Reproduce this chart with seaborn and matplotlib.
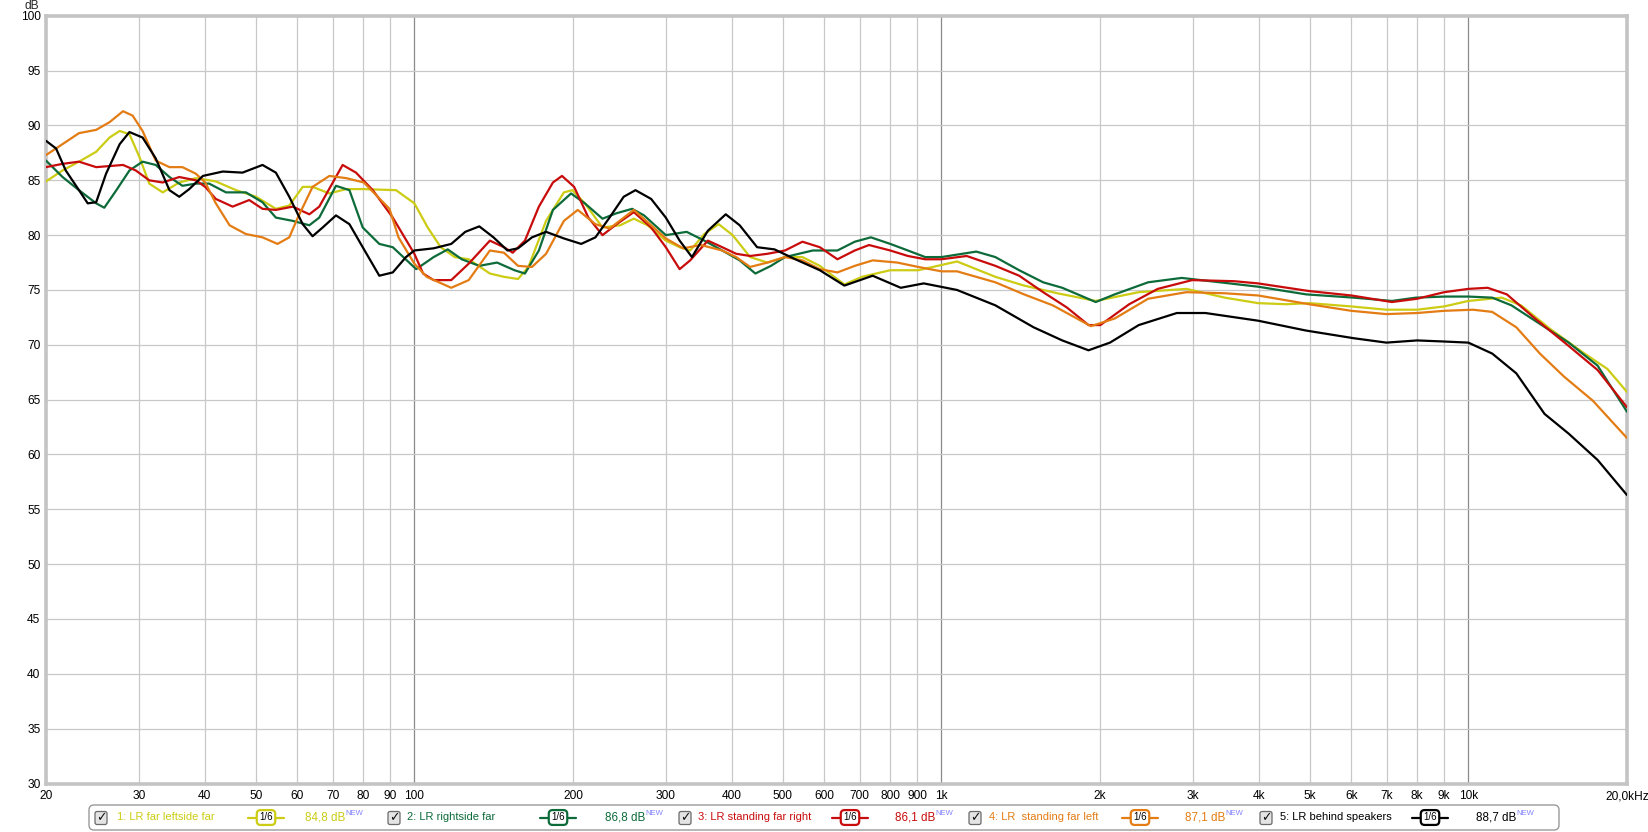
import numpy as np
import pandas as pd
import matplotlib
matplotlib.use("Agg")
import matplotlib.pyplot as plt
import seaborn as sns
from matplotlib.patches import FancyBboxPatch
from matplotlib.lines import Line2D
from matplotlib.transforms import IdentityTransform

# ---------------- data ----------------
names = ["1: LR far leftside far", "2: LR rightside far", "3: LR standing far right",
         "4: LR  standing far left", "5: LR behind speakers"]
levels = ["84,8 dB", "86,8 dB", "86,1 dB", "87,1 dB", "88,7 dB"]
colors = ["#cccc14", "#0d6b3a", "#c80c0c", "#e47c14", "#000000"]

f1 = [20, 21.5, 23.1, 24.9, 26.4, 27.6, 28.8, 30.1, 31.4, 33.3, 35.8, 38.5, 42.0, 45.9, 50.1,
      54.6, 57.9, 61.4, 64.1, 69.0, 74.2, 79.8, 92.3, 100, 106, 112.2, 119.3, 126.8, 139.1,
      147.9, 157.3, 164.6, 177.8, 192.2, 199.5, 210.6, 227.5, 245.7, 260.9, 277, 300, 318.7,
      333.7, 355, 378, 401.8, 433.6, 467.8, 505, 545, 588, 654.6, 707, 799.5, 904, 1071, 1266,
      1435, 1661, 1963, 2369, 2918, 3451, 3989, 4520, 4990, 5996, 6990, 7993, 9000, 9999,
      11570, 12590, 14250, 16500, 18360, 20000]
d1 = [84.9, 85.9, 86.7, 87.6, 88.9, 89.5, 89.2, 87.1, 84.7, 83.9, 84.8, 85.2, 84.9, 84.1, 83.5,
      82.4, 82.7, 84.4, 84.4, 83.8, 84.2, 84.2, 84.1, 82.9, 80.7, 78.9, 78.0, 77.8, 76.5,
      76.2, 76.0, 77.1, 81.3, 83.9, 84.1, 82.9, 80.7, 80.9, 81.5, 80.9, 79.5, 78.9,
      78.6, 80.1, 81.0, 80.0, 78.0, 77.5, 78.0, 78.0, 77.2, 75.5, 76.2, 76.8, 76.8, 77.6, 76.2,
      75.4, 74.7, 74.0, 74.8, 75.1, 74.3, 73.8, 73.7, 73.8, 73.5, 73.2, 73.2, 73.5, 74.0,
      74.3, 73.6, 71.5, 69.3, 67.8, 65.7]

f2 = [20, 21.5, 23.1, 24.9, 25.8, 27.2, 28.8, 30.5, 32.3, 34.3, 36.3, 38.5, 40.8, 43.9, 47.9,
      51.5, 54.6, 58.8, 63.2, 66.0, 71.0, 75.3, 79.8, 85.8, 91.0, 100.8, 108.8, 115.7, 123,
      132.8, 143.5, 154.9, 162.1, 172.3, 183.2, 198.3, 210.6, 227.5, 242, 259, 272.8, 300,
      328.6, 355, 383.9, 414.3, 443.7, 475, 505, 570, 635, 685, 735, 800, 864, 932, 1000,
      1165, 1266, 1405, 1560, 1696, 1963, 2133, 2468, 2858, 3240, 3989, 4921, 6063, 7160,
      7950, 9000, 9999, 11100, 12070, 13380, 15500, 17590, 20000]
d2 = [86.8, 85.3, 84.1, 82.9, 82.5, 84.1, 85.9, 86.7, 86.4, 85.3, 84.5, 84.7, 84.7, 83.9, 83.9,
      83.0, 81.6, 81.3, 80.9, 81.6, 84.5, 84.1, 80.7, 79.2, 78.9, 76.9, 78.0, 78.7, 77.8,
      77.2, 77.5, 76.8, 76.5, 78.6, 82.3, 83.8, 82.9, 81.5, 82.0, 82.4, 81.8, 80.0,
      80.3, 79.5, 78.6, 77.7, 76.5, 77.2, 78.0, 78.6, 78.6, 79.4, 79.8, 79.2, 78.6, 78.0, 78.0,
      78.5, 78.0, 76.8, 75.7, 75.2, 73.9, 74.6, 75.7, 76.1, 75.8, 75.3, 74.6, 74.3, 74.0,
      74.3, 74.4, 74.4, 74.3, 73.6, 72.2, 70.2, 68.1, 63.9]

f3 = [20, 21.5, 23.1, 24.9, 28.0, 29.6, 31.4, 33.3, 35.8, 38.5, 40.1, 42.0, 45.2, 48.6, 51.5,
      54.6, 58.8, 63.2, 66.0, 73.1, 77.5, 83.4, 91.0, 100, 103.9, 108.8, 117.5, 126.8, 139.1,
      147.9, 153.7, 162.1, 172.3, 183.2, 190.6, 201, 213.9, 227.5, 242, 260.9, 281.4, 300,
      318.7, 333.7, 360.5, 383.9, 408, 433.6, 467.8, 505, 545, 588, 635, 685, 729, 800, 864,
      932, 1000, 1117, 1266, 1405, 1560, 1731, 1902, 2003, 2272, 2574, 2992, 3595, 3989,
      4990, 5996, 7160, 7993, 9000, 9999, 10880, 11830, 13380, 15500, 17590, 20000]
d3 = [86.2, 86.5, 86.7, 86.2, 86.4, 85.9, 85.0, 84.8, 85.3, 85.0, 84.4, 83.3, 82.6, 83.2, 82.4,
      82.3, 82.6, 81.9, 82.6, 86.4, 85.7, 84.1, 81.6, 78.3, 76.5, 75.9, 75.9, 77.4, 79.5,
      78.9, 78.4, 79.5, 82.6, 84.8, 85.4, 84.4, 81.6, 80.0, 81.0, 82.1, 80.7, 78.9,
      76.9, 77.7, 79.5, 78.9, 78.3, 78.1, 78.3, 78.6, 79.4, 78.9, 77.8, 78.6, 79.1, 78.6, 78.1,
      77.8, 77.8, 78.1, 77.2, 76.3, 74.8, 73.4, 71.8, 71.8, 73.7, 75.1, 75.9, 75.8, 75.6,
      74.9, 74.5, 73.9, 74.2, 74.8, 75.1, 75.2, 74.6, 72.4, 69.9, 67.7, 64.3]

f4 = [20, 21.5, 23.1, 24.9, 26.4, 28.0, 29.2, 30.5, 32.3, 34.3, 36.3, 38.5, 40.1, 42.0, 44.6,
      47.9, 51.5, 55.0, 57.9, 60.1, 64.1, 69.0, 74.2, 80.2, 89.7, 93.3, 100, 105.5, 117.5,
      126.8, 139.1, 147.9, 157.3, 167.2, 177.8, 192.2, 204.2, 220.6, 234.6, 260.9, 281.4, 300,
      323.6, 349.6, 383.9, 408, 433.6, 467.8, 505, 545, 588, 635, 685, 741, 825, 904, 1000,
      1071, 1266, 1435, 1627, 1922, 2133, 2468, 2918, 3451, 3989, 4990, 5996, 6990, 7993,
      9000, 10210, 11100, 12330, 13670, 15190, 17230, 20000]
d4 = [87.3, 88.3, 89.3, 89.6, 90.3, 91.3, 90.9, 89.5, 86.8, 86.2, 86.2, 85.6, 84.8, 82.9, 80.9,
      80.1, 79.8, 79.2, 79.8, 81.6, 84.4, 85.4, 85.2, 84.8, 82.4, 79.8, 77.4, 76.2, 75.2,
      75.9, 78.6, 78.4, 77.2, 77.1, 78.3, 81.3, 82.3, 81.0, 80.6, 82.3, 80.9, 79.7,
      78.8, 79.1, 78.6, 78.0, 77.1, 77.5, 78.0, 77.7, 76.9, 76.6, 77.2, 77.7, 77.5, 77.1, 76.7,
      76.7, 75.7, 74.6, 73.6, 71.7, 72.4, 74.2, 74.8, 74.7, 74.5, 73.7, 73.1, 72.8, 72.9,
      73.1, 73.2, 73.0, 71.6, 69.2, 67.1, 64.9, 61.5]

f5 = [20, 20.9, 21.8, 23.1, 24.0, 24.9, 26.0, 27.6, 28.8, 30.5, 32.3, 34.3, 35.8, 37.4, 39.7,
      43.3, 47.2, 51.5, 54.6, 57.9, 61.4, 64.1, 67.0, 71.0, 75.3, 79.8, 85.8, 91.0, 96.4,
      100, 108.8, 117.5, 124.9, 132.8, 141.3, 150.2, 157.3, 167.2, 177.8, 192.2, 207.3, 220.6,
      234.6, 249.6, 262.8, 281.4, 300, 318.7, 336.3, 360.5, 389.8, 414.3, 447.1, 482.5, 528.3,
      588, 654.6, 740.6, 837.4, 926, 1071, 1266, 1496, 1696, 1902, 2089, 2369, 2798, 3170,
      3989, 4921, 6063, 6990, 7993, 9000, 9999, 11100, 12330, 13950, 15500, 17590, 20000]
d5 = [88.6, 87.9, 85.9, 84.1, 82.9, 83.0, 85.6, 88.3, 89.4, 88.9, 87.0, 84.1, 83.5, 84.2, 85.4,
      85.8, 85.7, 86.4, 85.7, 83.5, 81.0, 79.9, 80.7, 81.8, 81.0, 78.9, 76.3, 76.6, 78.0,
      78.6, 78.8, 79.2, 80.3, 80.8, 79.8, 78.6, 78.8, 79.8, 80.3, 79.7, 79.2, 79.8,
      81.6, 83.5, 84.1, 83.3, 81.6, 79.5, 78.0, 80.4, 81.9, 80.9, 78.9, 78.7, 77.8,
      76.8, 75.4, 76.3, 75.2, 75.6, 75.0, 73.6, 71.6, 70.4, 69.5, 70.2, 71.8, 72.9, 72.9,
      72.2, 71.3, 70.6, 70.2, 70.4, 70.3, 70.2, 69.2, 67.4, 63.7, 61.9, 59.5, 56.3]

x_ticks = [20, 30, 40, 50, 60, 70, 80, 90, 100, 200, 300, 400, 500, 600, 700, 800, 900,
           1000, 2000, 3000, 4000, 5000, 6000, 7000, 8000, 9000, 10000, 20000]
x_labels = ["20", "30", "40", "50", "60", "70", "80", "90", "100", "200", "300", "400", "500",
            "600", "700", "800", "900", "1k", "2k", "3k", "4k", "5k", "6k", "7k", "8k", "9k",
            "10k", "20,0kHz"]
y_ticks = [30, 35, 40, 45, 50, 55, 60, 65, 70, 75, 80, 85, 90, 95, 100]

# ---------------- figure ----------------
W, H = 1649, 832
sns.set_style("white")
plt.rcParams["font.family"] = ["Liberation Sans", "DejaVu Sans"]

fig = plt.figure(figsize=(W / 100, H / 100), dpi=100)
ax = fig.add_axes([46 / W, 1 - 783.5 / H, (1627 - 46) / W, (783.5 - 15.8) / H])

frames = [pd.DataFrame({"Frequency": f, "SPL": d, "trace": n})
          for n, f, d in zip(names, [f1, f2, f3, f4, f5], [d1, d2, d3, d4, d5])]
df = pd.concat(frames, ignore_index=True)

sns.lineplot(data=df, x="Frequency", y="SPL", hue="trace", hue_order=names, palette=colors,
             estimator=None, sort=False, legend=False, linewidth=1.6, ax=ax, zorder=3)

ax.set_xscale("log")
ax.set_xlim(20, 20000)
ax.set_ylim(30, 100)
ax.xaxis.set_minor_locator(matplotlib.ticker.NullLocator())
ax.set_xticks(x_ticks)
ax.set_xticklabels(x_labels)
ax.set_yticks(y_ticks)
ax.set_yticklabels([str(v) for v in y_ticks])
ax.set_xlabel("")
ax.set_ylabel("")
ax.tick_params(axis="both", length=0, labelsize=8.6, colors="#000000")
ax.tick_params(axis="x", pad=5)
ax.tick_params(axis="y", pad=4)

ax.grid(True, which="major", color="#c8c8c8", linewidth=0.9, zorder=0)
for v, t in zip(x_ticks, ax.xaxis.get_major_ticks()):
    if v in (100, 1000, 10000):
        t.gridline.set_color("#8a8a8a")
ax.set_axisbelow(True)

for s in ax.spines.values():
    s.set_visible(True)
    s.set_color("#c4c4c4")
    s.set_linewidth(2.6)

fig.text(32 / W, 1 - 6 / H, "dB", ha="center", va="center", fontsize=8.6)

# ---------------- legend bar (pixel coordinates) ----------------
T = IdentityTransform()
def py(y):
    return H - y

box = FancyBboxPatch((89, py(830)), 1559 - 89, 25, boxstyle="round,pad=0,rounding_size=5",
                     transform=T, fc="white", ec="#9a9a9a", lw=1.0)
fig.patches.append(box)

ycen = py(817.5)
check_x = [101, 394, 685, 975, 1266]
label_x = [117, 407, 698, 989, 1280]
sym_x = [266, 558, 850, 1140, 1430]
lev_x = [305, 605, 895, 1185, 1476]

renderer = fig.canvas.get_renderer()
for i in range(5):
    c = colors[i]
    cb = FancyBboxPatch((check_x[i] - 6, ycen - 7), 12, 13,
                        boxstyle="round,pad=0,rounding_size=2", transform=T,
                        fc="#e4e4e4", ec="#6a6a6a", lw=0.9)
    fig.patches.append(cb)
    fig.text(check_x[i], ycen, "✓", transform=T, ha="center", va="center",
             fontsize=9, fontweight="bold", color="#111111", family=["DejaVu Sans"])
    fig.text(label_x[i], ycen, names[i], transform=T, ha="left", va="center",
             fontsize=8, color=c)
    fig.lines.append(Line2D([sym_x[i] - 18, sym_x[i] + 18], [ycen, ycen], transform=T,
                            color=c, lw=1.6))
    fig.text(sym_x[i], ycen, "1/6", transform=T, ha="center", va="center", fontsize=7,
             color="#000000",
             bbox=dict(boxstyle="round,pad=0.25,rounding_size=0.4", fc="white", ec=c, lw=1.6))
    lt = fig.text(lev_x[i], ycen, levels[i], transform=T, ha="left", va="center",
                  fontsize=8.4, color=c)
    ext = lt.get_window_extent(renderer=renderer)
    fig.text(ext.x1 + 0.5, ycen + 4, "NEW", transform=T, ha="left", va="center",
             fontsize=5.5, color="#8080ff")

fig.savefig("out.png", dpi=100, facecolor="white")
